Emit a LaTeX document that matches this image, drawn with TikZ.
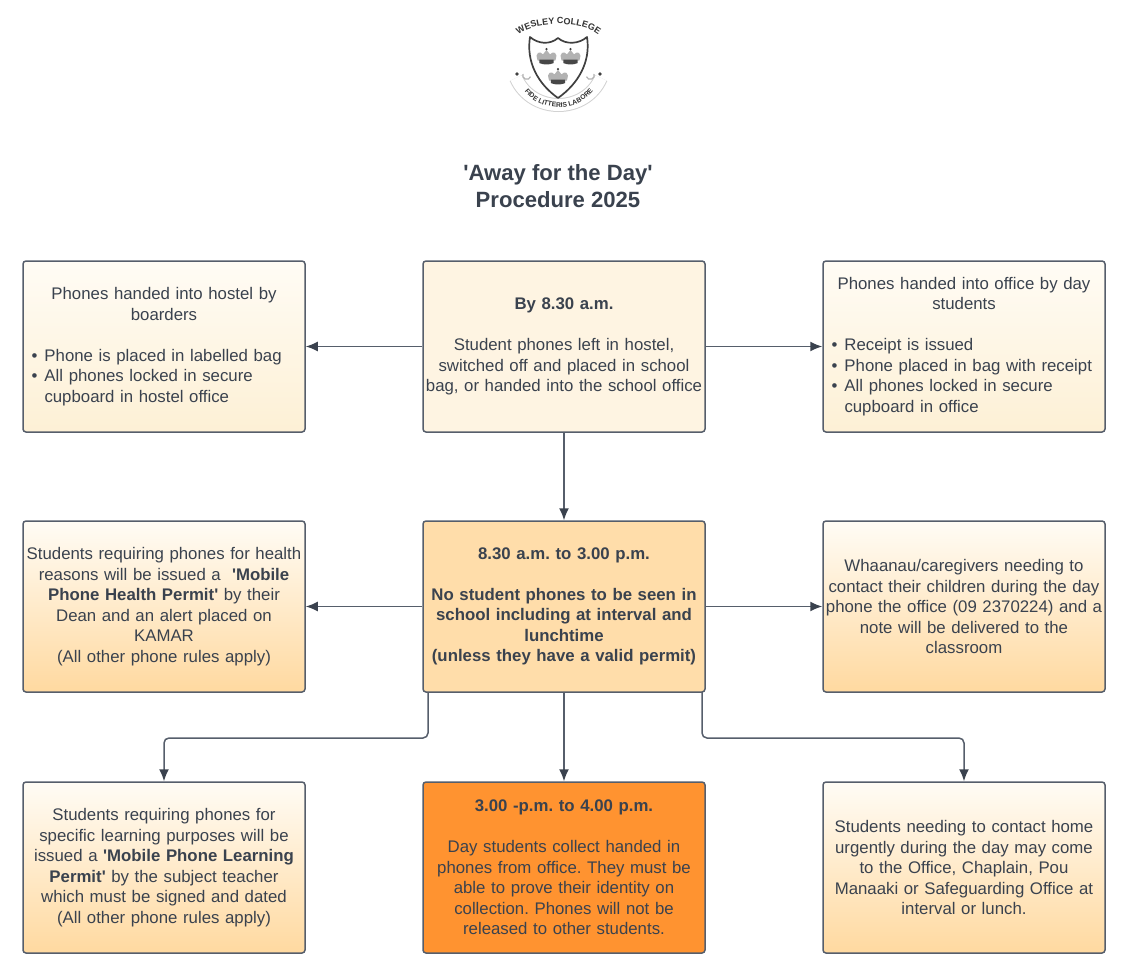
\documentclass[tikz,border=0pt]{standalone}
\usepackage{fontspec}
\setmainfont{Liberation Sans}[Ligatures=TeXOff]
\usetikzlibrary{arrows.meta,%  filled arrow tips
decorations.text}
\definecolor{ink}{HTML}{3A424E}
\definecolor{wire}{HTML}{565E6B}
\definecolor{creamtop}{HTML}{FFFCF5}
\definecolor{creambot}{HTML}{FDF0D5}
\definecolor{peachbot}{HTML}{FFD9A0}
\frenchspacing
\tikzset{every node/.style={font=\fontsize{16.8}{20.5}\selectfont,text=ink},
  infobox/.style={draw=wire,line width=1.5pt,rounded corners=3pt,minimum width=282pt,
    minimum height=171pt,text width=280pt,inner sep=1pt,align=center},
  palebox/.style={infobox,top color=creamtop,bottom color=creambot},
  peachbox/.style={infobox,top color=creamtop,middle color=creambot,bottom color=peachbot},
  flow/.style={draw=wire,line width=1.5pt,-{Latex[length=12pt,width=10pt,color=ink]}},
  crown/.pic={\fill[gray!60] (-10,4) .. controls (-14,-6) and (-7,-7) .. (-4,-3) -- (0,-8) -- (4,-3)
      .. controls (7,-7) and (14,-6) .. (10,4) -- cycle;
    \fill[black!72] (-8,3) -- (8,3) -- (8,7) .. controls (3,9) and (-3,9) .. (-8,7) -- cycle;
    \fill[black!75] (0,-9) circle (1.4);}}
\newcommand{\bitem}[1]{\makebox[265pt][l]{\makebox[13pt][l]{\textbullet}#1}}
\newcommand{\bcont}[1]{\makebox[265pt][l]{\hspace*{13pt}#1}}

\begin{document}
\begin{tikzpicture}[x=1pt,y=-1pt]
  \useasboundingbox (0,0) rectangle (1125,969);
  % logo
  \draw[gray!35,line width=14pt] (516,78) .. controls (532,114) and (585,114) .. (601,78);
  \draw[white,line width=12pt] (516,78) .. controls (532,114) and (585,114) .. (601,78);
  \draw[gray!60,line width=1.2pt] (523,74) arc (200:20:4);
  \draw[gray!60,line width=1.2pt] (594,74) arc (-20:160:4);
  \foreach \x in {517,600}
  \fill[black!75] (\x,74) circle (1.8);
  \draw[black!75,line width=1.7pt,fill=white,line join=round] (530,37) .. controls (538,44) and (550,45) .. (558,38)
    .. controls (566,45) and (579,44) .. (587,37) .. controls (591,62) and (578,84) .. (558,98)
    .. controls (538,84) and (526,62) .. (530,37) -- cycle;
  \foreach \x/\y in {546.5/57, 570.5/57, 558/77}
  \pic[scale=0.88] at (\x,\y) {crown};
  \path[decorate,decoration={text along path,text align=center,
    text={|\bfseries\fontsize{9}{10}\selectfont\color{black!80}|WESLEY COLLEGE}}]
    (517,36) .. controls (533,20) and (584,20) .. (600,36);
  \path[decorate,decoration={text along path,text align=center,
    text={|\bfseries\fontsize{6.8}{8}\selectfont\color{black!80}|FIDE LITTERIS LABORE}}]
    (520,84) .. controls (535,115) and (582,115) .. (598,84);

  % title
  \node[font=\fontsize{22.1}{27}\selectfont\bfseries,align=center] (title) at (558,186) {'Away for the Day'\\Procedure 2025};

  % top row
  \node[infobox,fill=creambot!70!white] (start) at (564,346.5)
    {\textbf{By 8.30 a.m.}\\[20.5pt]Student phones left in hostel,\\switched off and placed in school\\bag, or handed into the school office};
  \node[palebox] (hostel) at (164,346.5)
    {Phones handed into hostel by\\boarders\\[20.5pt]\bitem{Phone is placed in labelled bag}\\\bitem{All phones locked in secure}\\\bcont{cupboard in hostel office}};
  \node[palebox] (office) at (964,346.5)
    {Phones handed into office by day\\students\\[20.5pt]\bitem{Receipt is issued}\\\bitem{Phone placed in bag with receipt}\\\bitem{All phones locked in secure}\\\bcont{cupboard in office}};

  % middle row
  \node[infobox,fill=peachbot!90!white] (during) at (564,606.5)
    {\textbf{8.30 a.m. to 3.00 p.m.}\\[20.5pt]\textbf{No student phones to be seen in}\\\textbf{school including at interval and}\\\textbf{lunchtime}\\\textbf{(unless they have a valid permit)}};
  \node[peachbox] (health) at (164,606.5)
    {Students requiring phones for health\\reasons will be issued a \ \textbf{'Mobile}\\\textbf{Phone Health Permit'} by their\\Dean and an alert placed on\\KAMAR\\(All other phone rules apply)};
  \node[peachbox] (whaanau) at (964,606.5)
    {Whaanau/caregivers needing to\\contact their children during the day\\phone the office (09 2370224) and a\\note will be delivered to the\\classroom};

  % bottom row
  \node[infobox,fill={rgb,255:red,255;green,147;blue,48}] (collect) at (564,867.5)
    {\textbf{3.00 -p.m. to 4.00 p.m.}\\[20.5pt]Day students collect handed in\\phones from office. They must be\\able to prove their identity on\\collection. Phones will not be\\released to other students.};
  \node[peachbox] (learning) at (164,867.5)
    {Students requiring phones for\\specific learning purposes will be\\issued a \textbf{'Mobile Phone Learning}\\\textbf{Permit'} by the subject teacher\\which must be signed and dated\\(All other phone rules apply)};
  \node[peachbox] (urgent) at (964,867.5)
    {Students needing to contact home\\urgently during the day may come\\to the Office, Chaplain, Pou\\Manaaki or Safeguarding Office at\\interval or lunch.};

  % connectors
  \draw[flow] (start) -- (hostel);
  \draw[flow] (start) -- (office);
  \draw[flow] (start) -- (during);
  \draw[flow] (during) -- (health);
  \draw[flow] (during) -- (whaanau);
  \draw[flow] (during) -- (collect);
  \coordinate (leftdrop) at (428,692);
  \coordinate (rightdrop) at (702,692);
  \draw[flow,rounded corners=5pt] (leftdrop) -- ++(0,46) -| (learning.north);
  \draw[flow,rounded corners=5pt] (rightdrop) -- ++(0,46) -| (urgent.north);
\end{tikzpicture}
\end{document}
